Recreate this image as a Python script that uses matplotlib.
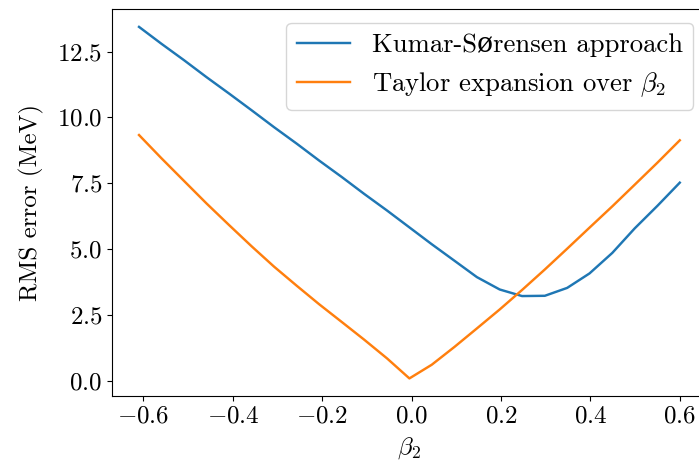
import matplotlib
matplotlib.use("Agg")
import matplotlib.pyplot as plt

plt.rcParams['font.family'] = ['cmr10', 'DejaVu Serif']
plt.rcParams['mathtext.fontset'] = 'cm'
plt.rcParams['axes.formatter.use_mathtext'] = True
plt.rcParams['font.size'] = 18

# deformation parameter grid
beta2 = [-0.610, -0.560, -0.509, -0.459, -0.408, -0.358, -0.308, -0.257,
         -0.207, -0.156, -0.106, -0.055, -0.005, 0.045, 0.096, 0.146,
         0.197, 0.247, 0.298, 0.348, 0.398, 0.449, 0.499, 0.550, 0.600]

# RMS error (MeV) of each approach
rms_kumar_sorensen = [13.44, 12.80, 12.17, 11.53, 10.90, 10.27, 9.63, 9.00,
                      8.36, 7.73, 7.09, 6.46, 5.82, 5.18, 4.55, 3.93,
                      3.46, 3.21, 3.22, 3.52, 4.07, 4.85, 5.78, 6.64, 7.52]
rms_taylor = [9.33, 8.45, 7.58, 6.73, 5.90, 5.10, 4.33, 3.60,
              2.90, 2.22, 1.55, 0.84, 0.08, 0.60, 1.28, 1.98,
              2.70, 3.44, 4.22, 5.01, 5.81, 6.62, 7.44, 8.28, 9.13]

fig = plt.figure(figsize=(6.99, 4.65), dpi=100)
ax = fig.add_axes([0.1602, 0.1484, 0.851, 0.8316])

ax.plot(beta2, rms_kumar_sorensen, color='#1f77b4', lw=1.75,
        label='Kumar-Sørensen approach')
ax.plot(beta2, rms_taylor, color='#ff7f0e', lw=1.75,
        label=r'Taylor expansion over $\beta_2$')

ax.set_xlabel(r'$\beta_2$', labelpad=5)
ax.set_ylabel('RMS error (MeV)', labelpad=9)
ax.set_xticks([-0.6, -0.4, -0.2, 0.0, 0.2, 0.4, 0.6])
ax.set_yticks([0.0, 2.5, 5.0, 7.5, 10.0, 12.5])
ax.legend(loc='upper right', fontsize=19.2)

fig.savefig('out.png', dpi=100)
